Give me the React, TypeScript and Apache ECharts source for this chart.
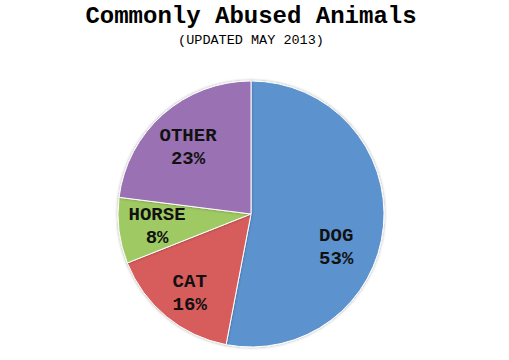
import React, { useEffect, useRef } from "react";
import * as echarts from "echarts";

const categories = ["DOG", "CAT", "HORSE", "OTHER"];
const values = [53, 16, 8, 23];
const colors = ["#5B93CF", "#D75C5B", "#9FC962", "#9A71B2"];
const titleText = "Commonly Abused Animals";
const subtitleText = "(UPDATED MAY 2013)";

// label nudges (px) relative to the default inside position
const labelNudge: [number, number][] = [
  [16, 27],
  [-17, 26],
  [-25, 4],
  [-17, -14],
];

const FONT = "'Liberation Mono', 'Courier New', monospace";

export default function App() {
  const ref = useRef<HTMLDivElement>(null);
  useEffect(() => {
    if (!ref.current) return;
    const chart = echarts.init(ref.current, null, { renderer: "svg" });
    chart.setOption({
      animation: false,
      backgroundColor: "#ffffff",
      graphic: [
        {
          type: "text",
          x: 251,
          y: 16,
          style: {
            text: titleText,
            font: `bold 24px ${FONT}`,
            fill: "#000",
            textAlign: "center",
            textVerticalAlign: "middle",
          },
        },
        {
          type: "text",
          x: 251,
          y: 40,
          style: {
            text: subtitleText,
            font: `13.5px ${FONT}`,
            fill: "#000",
            textAlign: "center",
            textVerticalAlign: "middle",
          },
        },
      ],
      series: [
        {
          type: "pie",
          center: [251, 214],
          radius: 133,
          startAngle: 90,
          clockwise: true,
          avoidLabelOverlap: false,
          data: categories.map((name, i) => ({
            name,
            value: values[i],
            itemStyle: { color: colors[i] },
          })),
          itemStyle: {
            borderColor: "#ffffff",
            borderWidth: 1,
            shadowBlur: 3,
            shadowColor: "rgba(0,0,0,0.35)",
          },
          label: {
            show: true,
            position: "inside",
            formatter: "{b}\n{c}%",
            fontFamily: FONT,
            fontWeight: "bold",
            fontSize: 19,
            lineHeight: 23,
            color: "#111",
            align: "center",
            verticalAlign: "middle",
          },
          labelLine: { show: false },
          labelLayout: (params: any) => {
            const n = labelNudge[params.dataIndex] || [0, 0];
            return { dx: n[0], dy: n[1] };
          },
          emphasis: { disabled: true },
        },
      ],
    });
    return () => chart.dispose();
  }, []);
  return (
    <div
      ref={ref}
      style={{ position: "absolute", left: 0, top: 0, width: 509, height: 360 }}
    />
  );
}
